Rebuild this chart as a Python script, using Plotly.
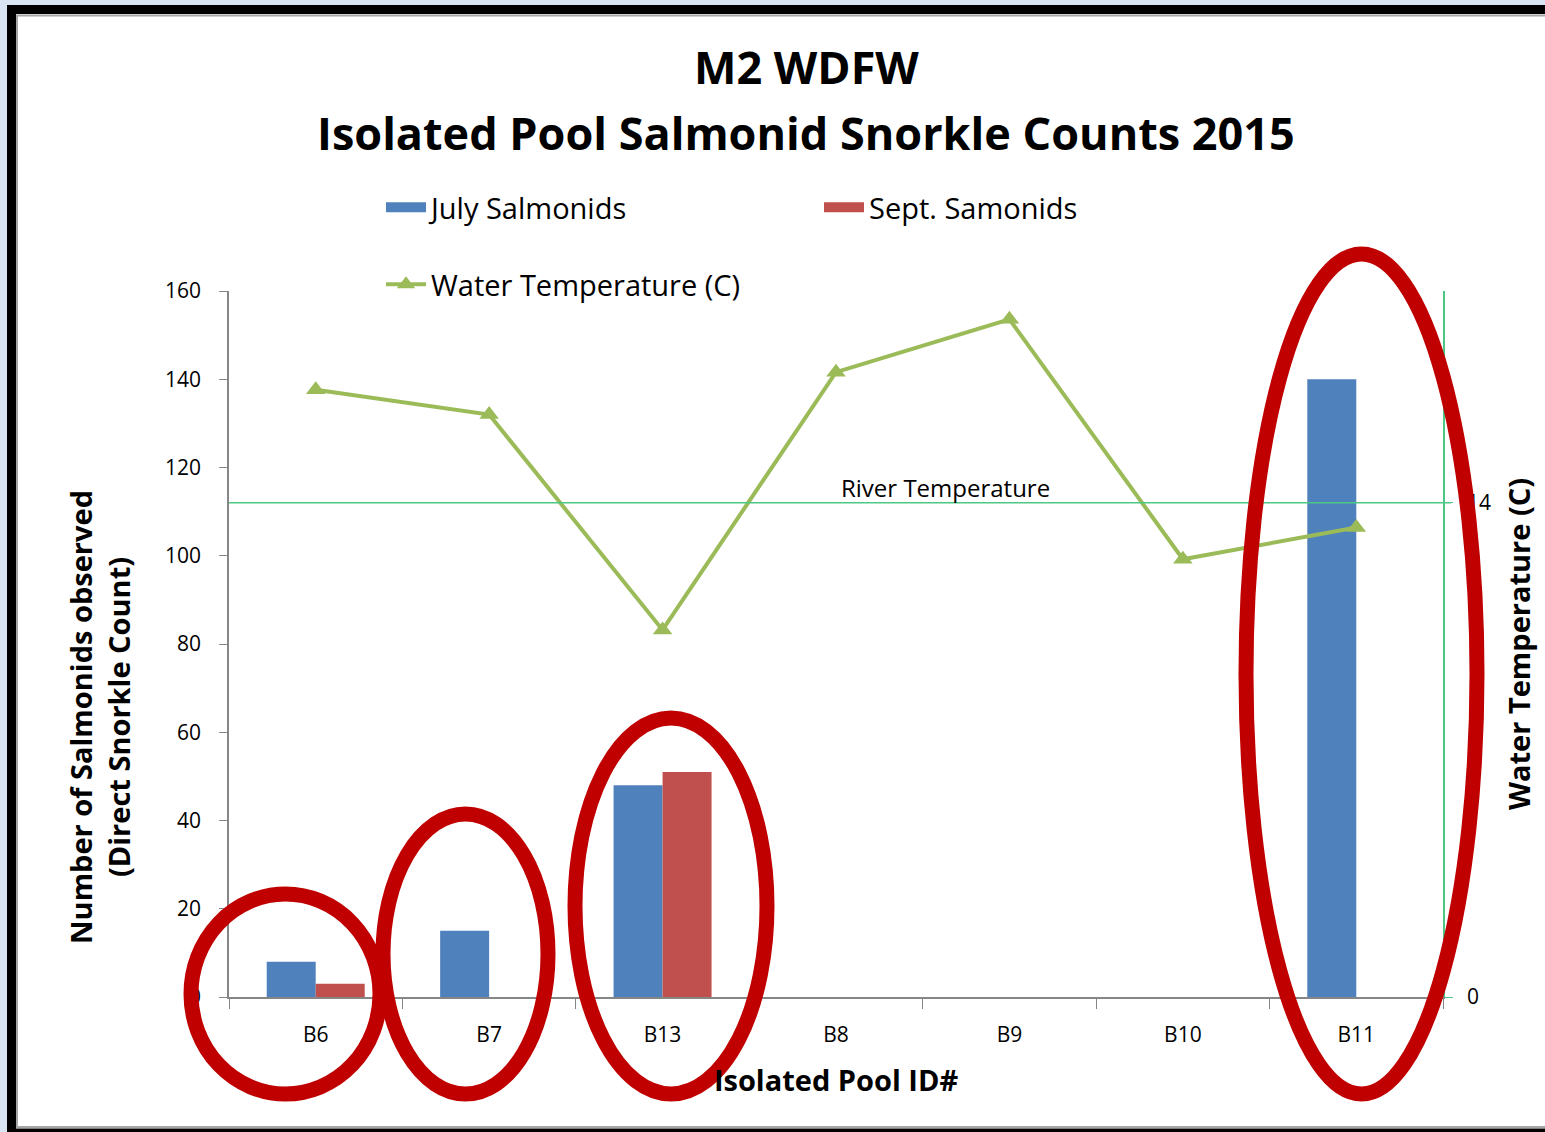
import plotly.graph_objects as go

# data
pools = ["B6", "B7", "B13", "B8", "B9", "B10", "B11"]
july_salmonids = [8, 15, 48, None, None, None, 140]
sept_salmonids = [3, None, 51, None, None, None, None]
water_temp_c = [17.2, 16.5, 10.4, 17.7, 19.2, 12.4, 13.3]
river_temp_c = 14
count_ticks = [0, 20, 40, 60, 80, 100, 120, 140, 160]
temp_ticks = [0, 14]

W, H = 1545, 1132
# plot area in pixels (left, right, top, bottom)
PL, PR, PT, PB = 229, 1443, 291, 997

BLUE = "#4F81BD"
RED = "#C0504D"
OLIVE = "#9BBB59"
GREEN = "#4DC784"
AXIS = "#868686"
MARK = "#C00000"
FONT = "Open Sans"


def px(x):
    return (x - PL) / (PR - PL)


def py(y):
    return (PB - y) / (PB - PT)


fig = go.Figure()

fig.add_trace(go.Bar(
    x=pools, y=july_salmonids, name="July Salmonids",
    marker=dict(color=BLUE, line=dict(width=0)),
    showlegend=False,
))
fig.add_trace(go.Bar(
    x=pools, y=sept_salmonids, name="Sept. Samonids",
    marker=dict(color=RED, line=dict(width=0)),
    showlegend=False,
))
fig.add_trace(go.Scatter(
    x=pools, y=water_temp_c, name="Water Temperature (C)",
    yaxis="y2", mode="lines+markers",
    line=dict(color=OLIVE, width=4),
    marker=dict(symbol="triangle-up", size=17, color=OLIVE),
    legend="legend2",
))
# wide Excel-style legend swatches for the bar series
for name, color in [("July Salmonids", BLUE), ("Sept. Samonids", RED)]:
    fig.add_trace(go.Scatter(
        x=[None], y=[None], name=name, mode="lines",
        line=dict(color=color, width=20), legend="legend", hoverinfo="skip",
    ))

shapes = []
# slide frame
shapes.append(dict(type="rect", xref="paper", yref="paper", layer="below",
                   x0=px(11.5), x1=px(1560), y0=py(1133), y1=py(9.5),
                   fillcolor="white", line=dict(color="black", width=9)))
shapes.append(dict(type="rect", xref="paper", yref="paper", layer="below",
                   x0=px(17), x1=px(1560), y0=py(1127), y1=py(15.5),
                   line=dict(color="#A6A6A6", width=2)))
# river temperature reference line
shapes.append(dict(type="line", xref="paper", yref="y2", x0=0, x1=px(1451),
                   y0=river_temp_c, y1=river_temp_c,
                   line=dict(color=GREEN, width=1.5)))
# red highlight ellipses
for x0, x1, y0, y1 in [(191, 380, 894, 1094), (383, 548, 814, 1094),
                       (575, 767, 718, 1094), (1246, 1477, 254, 1094)]:
    shapes.append(dict(type="circle", xref="paper", yref="paper", layer="above",
                       x0=px(x0), x1=px(x1), y0=py(y1), y1=py(y0),
                       line=dict(color=MARK, width=15)))

annotations = [
    dict(text="<b>M2 WDFW</b>", x=px(806), y=py(67), xref="paper", yref="paper",
         showarrow=False, xanchor="center", yanchor="middle",
         font=dict(size=45, color="black")),
    dict(text="<b>Isolated Pool Salmonid Snorkle Counts 2015</b>", x=px(806), y=py(132),
         xref="paper", yref="paper", showarrow=False, xanchor="center", yanchor="middle",
         font=dict(size=45, color="black")),
    dict(text="<b>Number of Salmonids observed<br>(Direct Snorkle Count)</b>",
         x=px(99), y=py(717), xref="paper", yref="paper", showarrow=False,
         xanchor="center", yanchor="middle",
         textangle=-90, font=dict(size=29, color="black")),
    dict(text="River Temperature", x=px(945), y=py(487), xref="paper", yref="paper",
         showarrow=False, xanchor="center", yanchor="middle",
         font=dict(size=24, color="black")),
]

fig.update_layout(
    width=W, height=H, autosize=False,
    margin=dict(l=PL, r=W - PR, t=PT, b=H - PB, pad=0, autoexpand=False),
    paper_bgcolor="#D9E5F2",
    plot_bgcolor="rgba(0,0,0,0)",
    font=dict(family=FONT, color="black"),
    barmode="group", bargap=0.435, bargroupgap=0,
    shapes=shapes, annotations=annotations,
    legend=dict(orientation="h", x=px(381), y=py(182), xanchor="left", yanchor="top",
                entrywidth=383, itemwidth=40, bgcolor="rgba(0,0,0,0)",
                font=dict(size=29, color="black"), traceorder="normal"),
    legend2=dict(orientation="h", x=px(381), y=py(259), xanchor="left", yanchor="top",
                 itemwidth=40, bgcolor="rgba(0,0,0,0)",
                 font=dict(size=29, color="black")),
    xaxis=dict(type="category", range=[-0.5, 6.5], showgrid=False,
               showline=True, linecolor=AXIS, linewidth=1.5,
               ticks="outside", tickson="boundaries", ticklen=10, tickcolor=AXIS,
               ticklabelstandoff=18,
               tickfont=dict(size=21, color="black"),
               title=dict(text="<b>Isolated Pool ID#</b>", font=dict(size=29, color="black"),
                          standoff=24)),
    yaxis=dict(range=[0, 160], tickvals=count_ticks, showgrid=False, zeroline=False,
               showline=True, linecolor=AXIS, linewidth=1.5,
               ticks="outside", ticklen=8, tickcolor=AXIS, ticklabelstandoff=14,
               tickfont=dict(size=21, color="black")),
    yaxis2=dict(range=[0, 20], tickvals=temp_ticks, overlaying="y", side="right",
                showgrid=False, zeroline=False,
                showline=True, linecolor=GREEN, linewidth=1.5,
                ticks="outside", ticklen=8, tickcolor=GREEN, ticklabelstandoff=10,
                tickfont=dict(size=21, color="black"),
                title=dict(text="<b>Water Temperature (C)</b>",
                           font=dict(size=29, color="black"), standoff=20)),
)

fig.write_html("out.html", config={"displayModeBar": False},
               post_script="document.body.style.margin='0';")
